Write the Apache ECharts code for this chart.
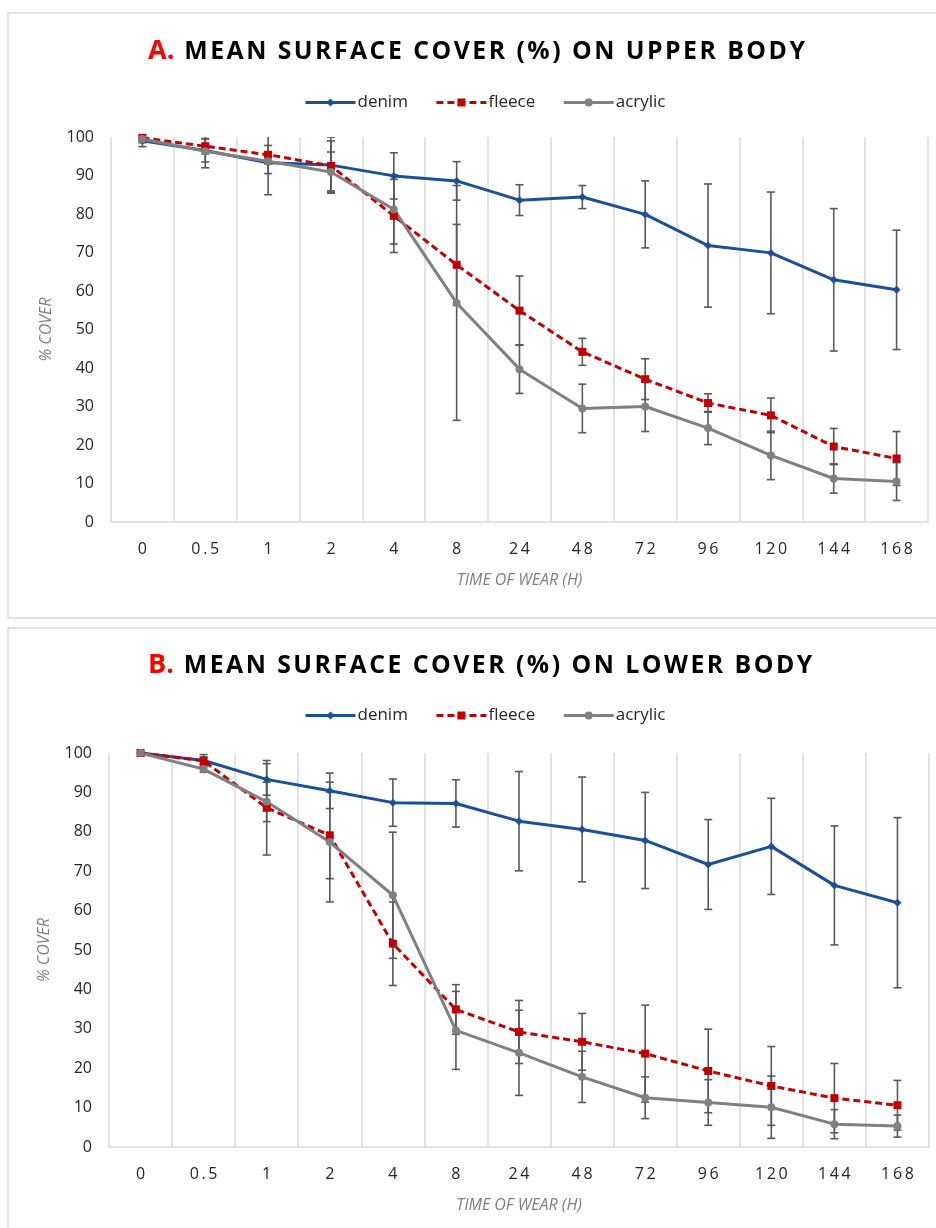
<!DOCTYPE html>
<html>
<head>
<meta charset="utf-8">
<script src="https://cdn.jsdelivr.net/npm/echarts@6/dist/echarts.min.js"></script>
<style>
html,body{margin:0;padding:0;background:#fff;}
#main{width:936px;height:1228px;}
</style>
</head>
<body>
<div id="main"></div>
<script>
// ---- data ----
const categories = ['0','0.5','1','2','4','8','24','48','72','96','120','144','168'];

const denimUpper      = [99.0, 96.5, 93.3, 92.7, 89.9, 88.6, 83.6, 84.4, 79.9, 71.8, 69.9, 62.9, 60.3];
const denimUpperErr   = [1.5, 3, 2.8, 7.3, 6, 5, 4, 3, 8.7, 16, 15.8, 18.5, 15.5];
const fleeceUpper     = [99.8, 97.6, 95.4, 92.5, 79.5, 66.8, 54.9, 44.2, 37.1, 30.9, 27.7, 19.6, 16.5];
const fleeceUpperErr  = [0.5, 2, 2.4, 6.5, 9.5, 10.5, 9, 3.5, 5.3, 2.4, 4.5, 4.7, 7];
const acrylicUpper    = [99.5, 96.3, 93.7, 90.9, 81.2, 56.9, 39.7, 29.5, 30.0, 24.4, 17.3, 11.3, 10.5];
const acrylicUpperErr = [1, 4.3, 8.7, 5.2, 9, 30.5, 6.3, 6.3, 6.5, 4.3, 6.3, 3.8, 4.9];

const denimLower      = [100, 98.1, 93.3, 90.4, 87.4, 87.2, 82.7, 80.6, 77.8, 71.7, 76.3, 66.4, 62.0];
const denimLowerErr   = [0, 1.5, 4, 4.5, 6, 6, 12.6, 13.3, 12.2, 11.4, 12.2, 15.1, 21.6];
const fleeceLower     = [100, 98.0, 86.1, 79.1, 51.6, 34.9, 29.2, 26.7, 23.7, 19.3, 15.5, 12.4, 10.6];
const fleeceLowerErr  = [0, 1, 12, 11, 10.6, 6.3, 8, 7.2, 12.3, 10.6, 10, 8.8, 6.3];
const acrylicLower    = [100, 95.9, 87.6, 77.4, 63.9, 29.6, 23.9, 17.8, 12.5, 11.3, 10.1, 5.8, 5.3];
const acrylicLowerErr = [0, 0.8, 5, 15.2, 16, 9.9, 10.8, 6.5, 5.3, 5.8, 7.9, 3.7, 2.8];

const seriesNames = ['denim', 'fleece', 'acrylic'];
const yTicks = { min: 0, max: 100, interval: 10 };

// ---- styling ----
const FONT = "'Open Sans', 'Noto Sans', sans-serif";
const colors = { denim: '#1B4F98', fleece: '#C00000', acrylic: '#808080' };
const symbols = { denim: 'diamond', fleece: 'rect', acrylic: 'circle' };
const symbolSizes = { denim: 8, fleece: 8, acrylic: 8 };
const ERR_COLOR = '#595959';
const GRID_COLOR = '#D9D9D9';

function spaced(s, sep) { return s.split('').join(sep); }

function errData(vals, errs) {
  const out = [];
  vals.forEach((v, i) => { if (errs[i] > 0) out.push([i, v - errs[i], v + errs[i]]); });
  return out;
}

function renderErr(params, api) {
  const i = api.value(0);
  const lo = api.coord([i, api.value(1)]);
  const hi = api.coord([i, api.value(2)]);
  const w = 4;
  const st = { stroke: ERR_COLOR, lineWidth: 1.6 };
  return {
    type: 'group',
    children: [
      { type: 'line', shape: { x1: lo[0], y1: lo[1], x2: hi[0], y2: hi[1] }, style: st },
      { type: 'line', shape: { x1: lo[0] - w, y1: lo[1], x2: lo[0] + w, y2: lo[1] }, style: st },
      { type: 'line', shape: { x1: hi[0] - w, y1: hi[1], x2: hi[0] + w, y2: hi[1] }, style: st }
    ]
  };
}

function lineSeries(name, data, gi) {
  return {
    name: name, type: 'line', data: data,
    xAxisIndex: gi, yAxisIndex: gi,
    symbol: symbols[name], symbolSize: symbolSizes[name], showSymbol: true,
    itemStyle: { color: colors[name] },
    lineStyle: { color: colors[name], width: 3, type: name === 'fleece' ? [7, 4] : 'solid' },
    z: 3, animation: false
  };
}

function errSeries(vals, errs, gi) {
  return {
    type: 'custom', renderItem: renderErr, data: errData(vals, errs),
    xAxisIndex: gi, yAxisIndex: gi, clip: true, z: 2, silent: true, animation: false,
    encode: { x: 0, y: [1, 2] }
  };
}

function xAxisFor(gi) {
  return {
    gridIndex: gi, type: 'category', data: categories, boundaryGap: true,
    axisLine: { show: true, lineStyle: { color: GRID_COLOR, width: 1.5 } },
    axisTick: { show: false },
    axisLabel: { color: '#262626', fontSize: 16, fontFamily: FONT, margin: 19,
                 formatter: v => spaced(v, '\u2009') },
    splitLine: { show: true, interval: 0, lineStyle: { color: GRID_COLOR, width: 1.5 } },
    name: 'TIME OF WEAR (H)', nameLocation: 'middle', nameGap: 50,
    nameTextStyle: { color: '#7F7F7F', fontSize: 16, fontStyle: 'italic', fontFamily: FONT }
  };
}

function yAxisFor(gi) {
  return {
    gridIndex: gi, type: 'value', min: yTicks.min, max: yTicks.max, interval: yTicks.interval,
    axisLine: { show: false }, axisTick: { show: false }, splitLine: { show: false },
    axisLabel: { color: '#262626', fontSize: 16, fontFamily: FONT, margin: 17 },
    name: '% COVER', nameLocation: 'middle', nameRotate: 90, nameGap: 57,
    nameTextStyle: { color: '#7F7F7F', fontSize: 16, fontStyle: 'italic', fontFamily: FONT }
  };
}

function titleFor(letter, text, top) {
  return {
    text: '{a|' + letter + '}  {b|' + spaced(text, '\u200A') + '}',
    left: 143, top: top,
    textStyle: {
      rich: {
        a: { color: '#FF0000', fontSize: 27, fontWeight: 'bold', fontFamily: FONT },
        b: { color: '#000000', fontSize: 24.8, fontWeight: 'bold', fontFamily: FONT }
      }
    }
  };
}

function legendFor(top) {
  return {
    data: seriesNames, top: top, left: 299, itemWidth: 50, itemHeight: 10, itemGap: 27,
    textStyle: { color: '#262626', fontSize: 17, fontFamily: FONT, padding: [0, 0, 0, -3] },
    lineStyle: { width: 3 },
    selectedMode: false
  };
}

const chart = echarts.init(document.getElementById('main'), null, { renderer: 'canvas' });
chart.setOption({
  backgroundColor: '#fff',
  animation: false,
  graphic: [
    { type: 'rect', shape: { x: 8, y: 13, width: 940, height: 605 }, style: { fill: 'none', stroke: GRID_COLOR, lineWidth: 1.5 }, z: -1 },
    { type: 'rect', shape: { x: 8, y: 628, width: 940, height: 620 }, style: { fill: 'none', stroke: GRID_COLOR, lineWidth: 1.5 }, z: -1 }
  ],
  title: [
    titleFor('A.', 'MEAN SURFACE COVER (%) ON UPPER BODY', 33),
    titleFor('B.', 'MEAN SURFACE COVER (%) ON LOWER BODY', 647)
  ],
  legend: [legendFor(89), legendFor(702)],
  grid: [
    { left: 111, right: 8, top: 137, height: 385 },
    { left: 109, right: 7, top: 753, height: 394 }
  ],
  xAxis: [xAxisFor(0), xAxisFor(1)],
  yAxis: [yAxisFor(0), yAxisFor(1)],
  series: [
    errSeries(denimUpper, denimUpperErr, 0),
    errSeries(fleeceUpper, fleeceUpperErr, 0),
    errSeries(acrylicUpper, acrylicUpperErr, 0),
    lineSeries('denim', denimUpper, 0),
    lineSeries('fleece', fleeceUpper, 0),
    lineSeries('acrylic', acrylicUpper, 0),
    errSeries(denimLower, denimLowerErr, 1),
    errSeries(fleeceLower, fleeceLowerErr, 1),
    errSeries(acrylicLower, acrylicLowerErr, 1),
    lineSeries('denim', denimLower, 1),
    lineSeries('fleece', fleeceLower, 1),
    lineSeries('acrylic', acrylicLower, 1)
  ]
});
</script>
</body>
</html>
